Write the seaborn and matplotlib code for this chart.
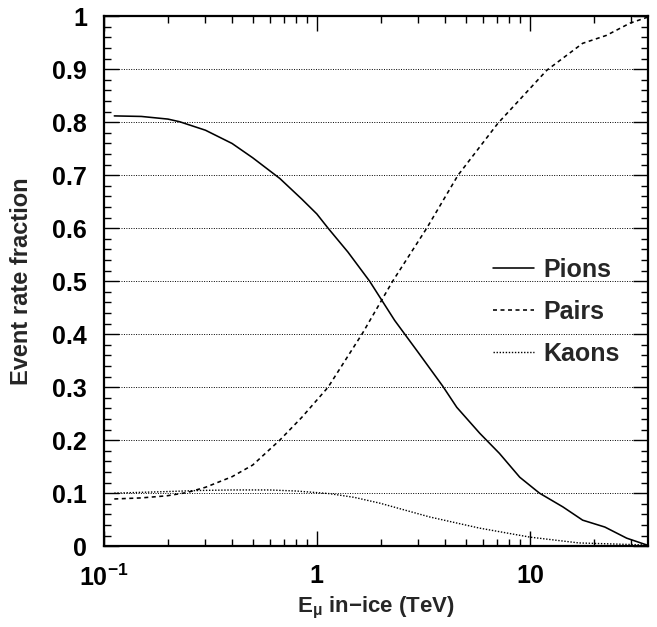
import numpy as np
import pandas as pd
import matplotlib
matplotlib.use("Agg")
import matplotlib.pyplot as plt
import matplotlib.ticker as mticker
import seaborn as sns

# valores
pions_E = [0.112, 0.15, 0.2, 0.227, 0.3, 0.4, 0.5, 0.67, 0.85, 1.0, 1.13, 1.4, 1.77,
           2.32, 3.0, 3.9, 4.54, 5.82, 7.2, 8.97, 11.1, 14.3, 17.7, 22.5, 28.5, 35.5]
pions_frac = [0.812, 0.811, 0.806, 0.801, 0.785, 0.760, 0.733, 0.694, 0.655, 0.627, 0.600,
              0.555, 0.500, 0.426, 0.365, 0.302, 0.262, 0.213, 0.175, 0.130, 0.100, 0.074,
              0.049, 0.036, 0.015, 0.002]

pairs_E = [0.112, 0.15, 0.198, 0.245, 0.30, 0.40, 0.50, 0.67, 0.85, 1.13, 1.64, 2.27,
           3.28, 4.6, 7.08, 12.0, 17.7, 22.9, 29.5, 35.5]
pairs_frac = [0.089, 0.091, 0.095, 0.101, 0.111, 0.131, 0.153, 0.200, 0.243, 0.300, 0.402,
              0.500, 0.600, 0.700, 0.798, 0.898, 0.949, 0.964, 0.987, 0.998]

kaons_E = [0.112, 0.2, 0.28, 0.4, 0.6, 0.8, 1.0, 1.15, 1.5, 1.98, 3.39, 5.8, 10, 17, 30, 35.5]
kaons_frac = [0.100, 0.103, 0.105, 0.106, 0.106, 0.104, 0.101, 0.099, 0.092, 0.081, 0.055,
              0.034, 0.017, 0.006, 0.003, 0.002]

x_ticks = [0.1, 1, 10]
x_tick_labels = [r"$\mathbf{10^{-1}}$", "1", "10"]
y_ticks = [0, 0.1, 0.2, 0.3, 0.4, 0.5, 0.6, 0.7, 0.8, 0.9, 1]
y_tick_labels = ["0", "0.1", "0.2", "0.3", "0.4", "0.5", "0.6", "0.7", "0.8", "0.9", "1"]

sns.set_theme(style="ticks")
plt.rcParams["font.family"] = ["Liberation Sans", "DejaVu Sans"]
plt.rcParams["font.weight"] = "bold"
plt.rcParams["mathtext.fontset"] = "custom"
plt.rcParams["mathtext.rm"] = "Liberation Sans:bold"
plt.rcParams["mathtext.bf"] = "Liberation Sans:bold"
plt.rcParams["mathtext.it"] = "Liberation Sans:bold"

fig = plt.figure(figsize=(6.57, 6.27), dpi=100)
ax = fig.add_axes([0.158, 0.129, 0.828, 0.845])

sns.lineplot(x=pions_E, y=pions_frac, ax=ax, color="black", linewidth=1.15,
             linestyle="-", label="Pions")
sns.lineplot(x=pairs_E, y=pairs_frac, ax=ax, color="black", linewidth=1.15,
             linestyle=(0, (2.5, 2.2)), label="Pairs")
sns.lineplot(x=kaons_E, y=kaons_frac, ax=ax, color="black", linewidth=1.0,
             linestyle=(0, (1, 1.2)), label="Kaons")

ax.set_xscale("log")
ax.set_xlim(0.1, 35.8)
ax.set_ylim(0, 1)

ax.xaxis.set_major_locator(mticker.FixedLocator(x_ticks))
ax.xaxis.set_major_formatter(mticker.FixedFormatter(x_tick_labels))
ax.xaxis.set_minor_locator(mticker.LogLocator(base=10, subs=np.arange(2, 10)))
ax.xaxis.set_minor_formatter(mticker.NullFormatter())
ax.yaxis.set_major_locator(mticker.FixedLocator(y_ticks))
ax.yaxis.set_major_formatter(mticker.FixedFormatter(y_tick_labels))
ax.yaxis.set_minor_locator(mticker.MultipleLocator(0.02))

ax.tick_params(which="both", direction="in", top=True, right=True, width=1.0,
               colors="black")
ax.tick_params(which="major", length=11, labelsize=18)
ax.tick_params(axis="y", which="major", pad=12)
ax.tick_params(axis="x", which="major", pad=13)
ax.tick_params(which="minor", length=5)

ax.yaxis.grid(True, which="major", linestyle=(0, (1, 1.5)), color="black", linewidth=0.7)
ax.xaxis.grid(False)

for s in ax.spines.values():
    s.set_linewidth(1.6)
    s.set_color("black")

ax.set_xlabel("E$_{\\mu}$ in\u2212ice (TeV)", fontsize=16, fontweight="bold", labelpad=3)
ax.set_ylabel("Event rate fraction", fontsize=17, fontweight="bold", labelpad=14)

leg = ax.legend(loc="upper left", bbox_to_anchor=(0.750, 0.589), bbox_transform=fig.transFigure,
                frameon=False, fontsize=18, handlelength=1.64, handletextpad=0.4,
                labelspacing=0.72, borderpad=0, borderaxespad=0)
for t in leg.get_texts():
    t.set_fontweight("bold")

fig.savefig("out.png", dpi=100)
